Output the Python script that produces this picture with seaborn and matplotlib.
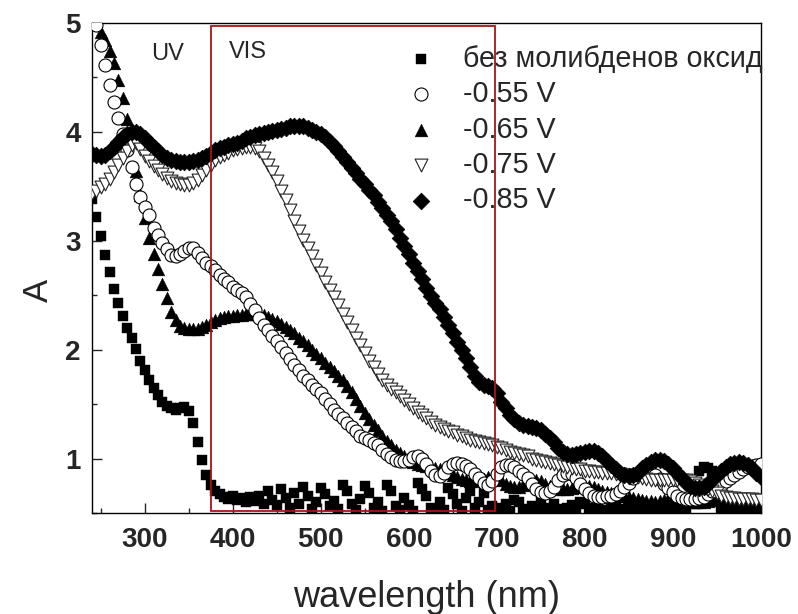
import matplotlib
matplotlib.use("Agg")
import matplotlib.pyplot as plt
import seaborn as sns
import pandas as pd
from matplotlib.patches import Rectangle
from matplotlib.ticker import MultipleLocator

# ---------------- data ----------------
wavelength = list(range(240, 1001, 5))

no_moo3 = [
    3.38, 3.22, 3.04, 2.87, 2.71, 2.56, 2.43, 2.31, 2.20, 2.11,
    2.01, 1.90, 1.81, 1.72, 1.65, 1.58, 1.52, 1.48, 1.46, 1.45,
    1.46, 1.47, 1.44, 1.33, 1.15, 0.99, 0.85, 0.76, 0.70, 0.67,
    0.65, 0.63, 0.66, 0.62, 0.64, 0.60, 0.65, 0.61, 0.66, 0.58,
    0.70, 0.62, 0.57, 0.72, 0.64, 0.55, 0.68, 0.58, 0.74, 0.66,
    0.54, 0.60, 0.73, 0.67, 0.56, 0.61, 0.54, 0.76, 0.70, 0.58,
    0.53, 0.63, 0.75, 0.68, 0.55, 0.60, 0.52, 0.76, 0.70, 0.56,
    0.53, 0.64, 0.57, 0.52, 0.78, 0.72, 0.66, 0.55, 0.52, 0.60,
    0.53, 0.73, 0.67, 0.58, 0.52, 0.64, 0.70, 0.55, 0.60, 0.68,
    0.53, 0.56, 0.52, 0.55, 0.58, 0.52, 0.62, 0.60, 0.54, 0.51,
    0.56, 0.53, 0.60, 0.55, 0.52, 0.58, 0.54, 0.51, 0.55, 0.57,
    0.53, 0.60, 0.58, 0.55, 0.52, 0.56, 0.53, 0.51, 0.55, 0.58,
    0.54, 0.52, 0.57, 0.55, 0.51, 0.53, 0.56, 0.52, 0.54, 0.51,
    0.55, 0.53, 0.57, 0.54, 0.55, 0.52, 0.60, 0.58, 0.89, 0.92,
    0.91, 0.89, 0.62, 0.55, 0.52, 0.54, 0.51, 0.55, 0.53, 0.52,
    0.56, 0.55, 0.52,
]

v055 = [
    5.40, 4.98, 4.80, 4.61, 4.43, 4.27, 4.13, 3.98, 3.83, 3.68,
    3.52, 3.40, 3.31, 3.24, 3.12, 3.05, 2.98, 2.92, 2.87, 2.86,
    2.88, 2.91, 2.93, 2.93, 2.89, 2.84, 2.80, 2.77, 2.73, 2.69,
    2.65, 2.62, 2.58, 2.55, 2.52, 2.48, 2.42, 2.36, 2.29, 2.23,
    2.18, 2.13, 2.08, 2.02, 1.97, 1.91, 1.86, 1.81, 1.76, 1.72,
    1.68, 1.64, 1.60, 1.55, 1.50, 1.45, 1.41, 1.37, 1.33, 1.29,
    1.25, 1.21, 1.19, 1.17, 1.14, 1.12, 1.08, 1.04, 1.01, 0.99,
    0.98, 0.98, 0.99, 1.01, 1.02, 1.00, 0.95, 0.89, 0.85, 0.84,
    0.87, 0.92, 0.95, 0.96, 0.95, 0.93, 0.90, 0.86, 0.82, 0.78,
    0.76, 0.79, 0.86, 0.92, 0.94, 0.94, 0.92, 0.89, 0.86, 0.82,
    0.77, 0.72, 0.69, 0.68, 0.70, 0.74, 0.80, 0.85, 0.87, 0.86,
    0.82, 0.77, 0.72, 0.68, 0.66, 0.65, 0.65, 0.66, 0.66, 0.67,
    0.70, 0.74, 0.78, 0.82, 0.85, 0.87, 0.88, 0.87, 0.85, 0.81,
    0.77, 0.73, 0.69, 0.66, 0.64, 0.63, 0.63, 0.63, 0.64, 0.65,
    0.67, 0.70, 0.73, 0.76, 0.79, 0.82, 0.85, 0.88, 0.90, 0.92,
    0.93, 0.94, 0.95,
]

v065 = [
    5.40, 5.02, 4.92, 4.84, 4.74, 4.63, 4.48, 4.31, 4.12, 3.92,
    3.64, 3.42, 3.21, 3.03, 2.88, 2.74, 2.60, 2.47, 2.35, 2.27,
    2.22, 2.20, 2.19, 2.19, 2.19, 2.21, 2.23, 2.25, 2.27, 2.29,
    2.30, 2.31, 2.31, 2.32, 2.32, 2.33, 2.33, 2.33, 2.33, 2.32,
    2.30, 2.28, 2.26, 2.24, 2.21, 2.18, 2.15, 2.11, 2.08, 2.04,
    2.00, 1.96, 1.92, 1.88, 1.84, 1.80, 1.76, 1.72, 1.67, 1.61,
    1.55, 1.48, 1.42, 1.36, 1.31, 1.26, 1.21, 1.16, 1.12, 1.08,
    1.05, 1.02, 0.99, 0.97, 0.95, 0.94, 0.93, 0.92, 0.91, 0.90,
    0.89, 0.87, 0.85, 0.83, 0.81, 0.80, 0.79, 0.79, 0.80, 0.81,
    0.83, 0.83, 0.82, 0.80, 0.77, 0.75, 0.74, 0.74, 0.76, 0.78,
    0.80, 0.80, 0.79, 0.77, 0.75, 0.73, 0.72, 0.72, 0.72, 0.73,
    0.74, 0.75, 0.75, 0.75, 0.74, 0.72, 0.70, 0.69, 0.68, 0.67,
    0.66, 0.66, 0.65, 0.64, 0.63, 0.62, 0.61, 0.61, 0.60, 0.61,
    0.62, 0.63, 0.64, 0.64, 0.63, 0.62, 0.61, 0.60, 0.60, 0.60,
    0.61, 0.62, 0.63, 0.63, 0.62, 0.61, 0.60, 0.60, 0.61, 0.62,
    0.62, 0.61, 0.60,
]

v075 = [
    3.44, 3.46, 3.49, 3.52, 3.57, 3.63, 3.70, 3.76, 3.82, 3.88,
    3.90, 3.84, 3.78, 3.73, 3.69, 3.65, 3.61, 3.58, 3.55, 3.53,
    3.52, 3.51, 3.51, 3.53, 3.56, 3.60, 3.65, 3.70, 3.74, 3.77,
    3.79, 3.81, 3.83, 3.84, 3.85, 3.86, 3.86, 3.85, 3.82, 3.76,
    3.70, 3.63, 3.55, 3.46, 3.37, 3.28, 3.18, 3.09, 3.01, 2.93,
    2.86, 2.78, 2.70, 2.62, 2.55, 2.48, 2.41, 2.33, 2.25, 2.18,
    2.11, 2.04, 1.97, 1.90, 1.84, 1.78, 1.72, 1.68, 1.64, 1.61,
    1.57, 1.54, 1.50, 1.46, 1.43, 1.40, 1.37, 1.34, 1.31, 1.29,
    1.27, 1.25, 1.24, 1.22, 1.21, 1.19, 1.17, 1.16, 1.15, 1.14,
    1.13, 1.12, 1.11, 1.10, 1.08, 1.06, 1.05, 1.04, 1.03, 1.02,
    1.00, 0.99, 0.98, 0.97, 0.96, 0.95, 0.94, 0.93, 0.92, 0.91,
    0.90, 0.90, 0.89, 0.89, 0.88, 0.88, 0.87, 0.87, 0.87, 0.86,
    0.86, 0.85, 0.85, 0.84, 0.83, 0.82, 0.81, 0.80, 0.80, 0.80,
    0.80, 0.80, 0.80, 0.80, 0.80, 0.80, 0.79, 0.78, 0.76, 0.74,
    0.72, 0.70, 0.68, 0.66, 0.65, 0.64, 0.64, 0.63, 0.63, 0.63,
    0.63, 0.62, 0.62,
]

v085 = [
    3.80, 3.79, 3.78, 3.79, 3.82, 3.86, 3.91, 3.95, 3.98, 4.00,
    4.00, 3.98, 3.94, 3.90, 3.86, 3.82, 3.79, 3.76, 3.74, 3.73,
    3.72, 3.72, 3.72, 3.73, 3.74, 3.76, 3.78, 3.81, 3.83, 3.85,
    3.86, 3.88, 3.89, 3.90, 3.92, 3.94, 3.95, 3.97, 3.98, 3.99,
    4.00, 4.01, 4.02, 4.03, 4.04, 4.05, 4.05, 4.05, 4.05, 4.04,
    4.02, 4.00, 3.98, 3.95, 3.91, 3.87, 3.82, 3.77, 3.72, 3.67,
    3.62, 3.57, 3.52, 3.47, 3.42, 3.36, 3.30, 3.24, 3.18, 3.11,
    3.03, 2.95, 2.88, 2.80, 2.72, 2.65, 2.57, 2.49, 2.43, 2.37,
    2.30, 2.23, 2.15, 2.07, 2.00, 1.92, 1.84, 1.76, 1.70, 1.68,
    1.67, 1.65, 1.60, 1.52, 1.46, 1.40, 1.36, 1.33, 1.31, 1.30,
    1.29, 1.28, 1.26, 1.23, 1.19, 1.15, 1.10, 1.06, 1.04, 1.03,
    1.04, 1.05, 1.06, 1.07, 1.07, 1.05, 1.02, 0.98, 0.94, 0.90,
    0.87, 0.85, 0.84, 0.85, 0.87, 0.91, 0.94, 0.97, 0.99, 0.99,
    0.98, 0.95, 0.91, 0.87, 0.82, 0.78, 0.75, 0.73, 0.73, 0.74,
    0.77, 0.81, 0.85, 0.89, 0.92, 0.95, 0.96, 0.97, 0.96, 0.94,
    0.91, 0.87, 0.83,
]

series_labels = ["без молибденов оксид", "-0.55 V", "-0.65 V", "-0.75 V", "-0.85 V"]
x_ticks = [300, 400, 500, 600, 700, 800, 900, 1000]
y_ticks = [1, 2, 3, 4, 5]
region_labels = ["UV", "VIS"]

# ---------------- styling ----------------
sns.set_style("white")
plt.rcParams["font.family"] = ["Liberation Sans", "DejaVu Sans"]

fig = plt.figure(figsize=(7.98, 6.14), dpi=100)
W, H = 798, 614
ax = fig.add_axes([92 / W, 1 - 513 / H, (760.7 - 92) / W, 490 / H])

df = pd.DataFrame({
    "wavelength": wavelength,
    series_labels[0]: no_moo3,
    series_labels[1]: v055,
    series_labels[2]: v065,
    series_labels[3]: v075,
    series_labels[4]: v085,
})

styles = [
    dict(marker="s", s=50, color="black", edgecolor="black", linewidth=0.3, zorder=2),
    dict(marker="o", s=88, color="white", edgecolor="black", linewidth=0.8, zorder=4),
    dict(marker="^", s=85, color="black", edgecolor="black", linewidth=0.3, zorder=3),
    dict(marker="v", s=85, color="white", edgecolor="#222222", linewidth=0.8, zorder=5),
    dict(marker="D", s=72, color="black", edgecolor="black", linewidth=0.5, zorder=6),
]

for lab, st in zip(series_labels, styles):
    sns.scatterplot(data=df, x="wavelength", y=lab, ax=ax, label=lab, legend=False, **st)

ax.set_xlim(240, 1000)
ax.set_ylim(0.5, 5)
ax.set_xticks(x_ticks)
ax.set_yticks(y_ticks)
ax.xaxis.set_minor_locator(MultipleLocator(50))
ax.yaxis.set_minor_locator(MultipleLocator(0.5))
ax.tick_params(axis="both", which="major", direction="in", length=7, width=1.0,
               labelsize=20, bottom=True, left=True, top=False, right=False)
ax.tick_params(axis="both", which="minor", direction="in", length=3.5, width=1.0,
               bottom=True, left=True, top=False, right=False)
ax.tick_params(axis="x", which="major", pad=10)
ax.tick_params(axis="y", which="major", pad=8)
for lbl in ax.get_xticklabels() + ax.get_yticklabels():
    lbl.set_fontweight("bold")
for sp in ax.spines.values():
    sp.set_linewidth(1.0)
    sp.set_color("black")

ax.set_xlabel("wavelength (nm)", fontsize=26)
ax.set_ylabel("A", fontsize=25)
ax.xaxis.set_label_coords(0.5, -0.136)
ax.yaxis.set_label_coords(-0.055, 0.455)

# UV / VIS regions
ax.add_patch(Rectangle((375, 0.515), 323, 4.46, fill=False, edgecolor="#a81515",
                       linewidth=1.3, zorder=10))
ax.text(326, 4.663, region_labels[0], ha="center", va="baseline", fontsize=17, zorder=11)
ax.text(416.7, 4.68, region_labels[1], ha="center", va="baseline", fontsize=17, zorder=11)

# legend
fs = 20.7
ax.legend(loc="upper left", bbox_to_anchor=(0.4708, 0.956), frameon=False,
          fontsize=fs, handlelength=1.0, handletextpad=0.95, labelspacing=0.26,
          borderaxespad=0, borderpad=0, markerscale=1.0)

fig.savefig("out.png", dpi=100)
